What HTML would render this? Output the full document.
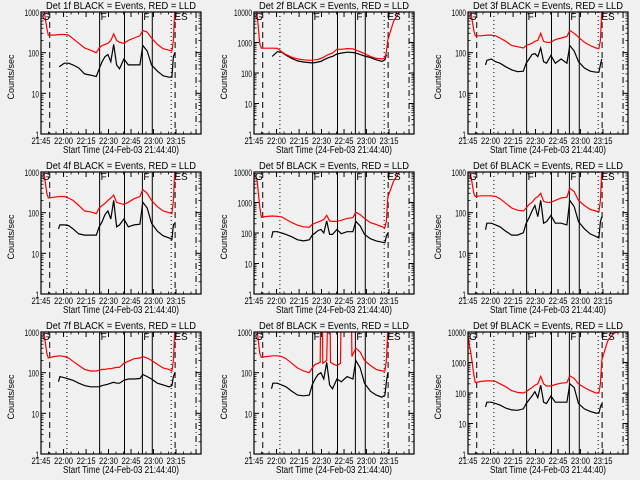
<!DOCTYPE html>
<html><head><meta charset="utf-8"><style>
html,body{margin:0;padding:0;background:#f0f0f0;}
svg{display:block;font-family:"Liberation Sans",sans-serif;}
</style></head><body>
<svg id="chart" width="640" height="480" viewBox="0 0 640 480" xmlns="http://www.w3.org/2000/svg">
<rect x="0" y="0" width="640" height="480" fill="#f0f0f0"/>
</svg>
<script>
// minutes since 21:44:40 (axis scale)
const tickLabels = ["21:45","22:00","22:15","22:30","22:45","23:00","23:15"];
const tickMinutes = [0,15.5,31,46.4,61.9,77.3,92.8];
const eventTimes = [6.0,17.8,40.3,57.4,69.7,76.5,89.5,92.2,106.6];
const eventStyles = ["dash","dot","solid","solid","solid","solid","dot","dash","dashdot"];
const flagLabels = ["G","F","F","ES"];
const flagTimes = [0,40.3,69.7,91];
const detNames = ["1f","2f","3f","4f","5f","6f","7f","8f","9f"];
const decades = [3,4,3,3,4,3,3,3,4];

const red1=[[0,1500],[2,1200],[4,400],[5,270],[9,270],[13,280],[16,280],[19,270],[22,220],[26,170],[30,130],[34,115],[38,100],[40,130],[42,150],[44,160],[46,170],[48,200],[50,290],[52,200],[54,180],[57,170],[60,200],[64,230],[68,260],[70,350],[73,320],[76,230],[80,160],[84,125],[88,115],[90,110],[91,200],[92,1200],[110,1500]];
const black1=[[12.5,45],[16,55],[19,55],[22,50],[26,42],[30,30],[34,28],[38,26],[40,40],[42,60],[44,80],[46,90],[48,60],[50,160],[52,50],[54,40],[57,70],[60,50],[64,50],[68,50],[70,150],[73,110],[76,50],[80,35],[84,27],[88,25],[90,25],[91,80],[92,100]];
const red2=[[0,12000],[2,10000],[4,900],[5,650],[9,650],[13,650],[16,640],[19,500],[22,400],[26,330],[30,290],[34,270],[38,260],[40,265],[42,270],[44,280],[46,300],[48,330],[50,380],[52,420],[54,450],[57,600],[60,600],[64,630],[68,620],[70,560],[73,500],[76,430],[80,350],[84,300],[88,290],[90,310],[91,500],[92,1200],[96,5000],[100,10000],[105,12000],[110,12000]];
const black2=[[12.5,350],[16,500],[19,480],[22,380],[26,300],[30,250],[34,230],[38,220],[40,215],[42,220],[44,230],[46,240],[48,270],[50,300],[52,330],[54,350],[57,420],[60,450],[64,480],[68,470],[70,450],[73,400],[76,360],[80,320],[84,270],[88,240],[90,270],[91,400]];
const red3=[[0,1500],[2,1000],[4,350],[5,260],[9,260],[13,270],[16,270],[19,260],[22,230],[26,190],[30,150],[34,140],[38,130],[40,150],[42,160],[44,170],[46,190],[48,200],[50,300],[52,190],[54,180],[57,180],[60,210],[64,230],[68,250],[70,350],[73,300],[76,240],[80,180],[84,150],[88,130],[90,125],[91,200],[92,1100],[110,1500]];
const black3=[[12,50],[13,65],[16,70],[19,60],[22,55],[26,45],[30,38],[34,34],[38,35],[40,55],[42,70],[44,90],[46,95],[48,80],[50,130],[52,60],[54,55],[57,85],[60,55],[64,70],[68,55],[70,150],[73,110],[76,60],[80,42],[84,35],[88,33],[90,33],[91,50],[92,70]];
const red4=[[0,1500],[2,1000],[4,300],[5,230],[9,240],[13,250],[16,250],[19,230],[22,200],[26,150],[30,110],[34,105],[38,95],[40,130],[42,150],[44,170],[46,200],[48,230],[50,270],[52,180],[54,170],[57,160],[60,180],[64,220],[68,250],[70,370],[73,300],[76,200],[80,140],[84,110],[88,100],[90,95],[91,200],[92,1100],[110,1500]];
const black4=[[12,40],[13,50],[16,50],[19,48],[22,40],[26,30],[30,28],[34,28],[38,28],[40,45],[42,60],[44,90],[46,110],[48,70],[50,200],[52,45],[54,50],[57,70],[60,45],[64,50],[68,52],[70,180],[73,130],[76,55],[80,35],[84,27],[88,24],[90,22],[91,50],[92,55]];
const red5=[[0,9000],[2,6000],[4,700],[5,330],[9,350],[13,360],[16,350],[19,340],[22,280],[26,220],[30,180],[34,160],[38,155],[40,190],[42,210],[44,230],[46,250],[48,280],[50,380],[52,250],[54,240],[57,240],[60,260],[64,300],[68,320],[70,480],[73,400],[76,300],[80,220],[84,190],[88,160],[90,150],[91,250],[92,1500],[96,5000],[100,10000],[105,12000],[110,12000]];
const black5=[[12,70],[13,110],[16,110],[19,100],[22,90],[26,75],[30,60],[34,55],[38,60],[40,85],[42,100],[44,120],[46,130],[48,100],[50,250],[52,90],[54,90],[57,130],[60,95],[64,110],[68,110],[70,240],[73,170],[76,90],[80,65],[84,55],[88,50],[90,48],[91,80],[92,100]];
const red6=[[0,1500],[2,800],[4,300],[5,250],[9,260],[13,260],[16,260],[19,250],[22,220],[26,170],[30,130],[34,115],[38,110],[40,130],[42,160],[44,180],[46,220],[48,250],[50,300],[52,190],[54,180],[57,180],[60,200],[64,230],[68,240],[70,400],[73,330],[76,200],[80,150],[84,120],[88,110],[90,105],[91,200],[92,1100],[110,1500]];
const black6=[[12,38],[13,55],[16,55],[19,50],[22,45],[26,35],[30,28],[34,28],[38,32],[40,55],[42,75],[44,110],[46,150],[48,80],[50,200],[52,55],[54,60],[57,85],[60,55],[64,55],[68,50],[70,200],[73,140],[76,60],[80,40],[84,30],[88,26],[90,24],[91,60],[92,80]];
const red7=[[0,1500],[2,1000],[4,300],[5,230],[9,250],[13,260],[16,250],[19,230],[22,190],[26,150],[30,120],[34,110],[38,110],[40,115],[42,120],[44,120],[46,125],[48,125],[50,130],[52,135],[54,135],[57,170],[60,190],[64,220],[68,230],[70,250],[73,230],[76,200],[80,160],[84,130],[88,120],[90,110],[91,200],[92,1100],[110,1500]];
const black7=[[12,60],[13,80],[16,75],[19,70],[22,65],[26,55],[30,48],[34,45],[38,45],[40,45],[42,48],[44,50],[46,52],[48,55],[50,58],[52,55],[54,55],[57,65],[60,70],[64,70],[68,72],[70,90],[73,80],[76,70],[80,55],[84,50],[88,45],[90,48],[91,80],[92,100]];
const red8=[[0,1500],[2,1200],[4,300],[5,240],[9,250],[13,260],[16,260],[19,250],[22,220],[26,170],[30,130],[34,110],[38,100],[40,130],[42,160],[44,170],[45.5,180],[45.8,2000],[47,2000],[47.3,170],[50,200],[50.6,2000],[52.3,2000],[52.6,180],[55,160],[57,150],[59.5,170],[59.8,2000],[67,2000],[67.3,250],[70,400],[73,320],[76,200],[80,150],[84,120],[88,110],[90,110],[91,200],[92,1100],[110,1500]];
const black8=[[12,40],[13,55],[16,55],[19,50],[22,45],[26,35],[30,28],[34,27],[38,28],[40,50],[42,70],[44,90],[46,100],[48,70],[50,180],[52,50],[54,40],[57,70],[60,60],[64,80],[68,70],[70,200],[73,130],[76,55],[80,35],[84,28],[88,25],[90,28],[91,60],[92,100]];
const red9=[[0,7000],[2,2000],[4,400],[5,220],[9,240],[13,250],[16,250],[19,240],[22,200],[26,160],[30,120],[34,105],[38,100],[40,110],[42,130],[44,150],[46,180],[48,200],[50,350],[52,200],[54,170],[57,170],[60,190],[64,210],[68,220],[70,370],[73,300],[76,200],[80,150],[84,120],[88,100],[90,100],[91,200],[92,1200],[96,5000],[100,9000],[105,11000],[110,12000]];
const black9=[[12,35],[13,50],[16,50],[19,45],[22,40],[26,32],[30,28],[34,27],[38,30],[40,45],[42,60],[44,80],[46,110],[48,70],[50,180],[52,50],[54,45],[57,80],[60,50],[64,50],[68,50],[70,200],[73,150],[76,45],[80,30],[84,25],[88,22],[90,22],[91,35],[92,45]];

const redSeries=[red1,red2,red3,red4,red5,red6,red7,red8,red9];
const blackSeries=[black1,black2,black3,black4,black5,black6,black7,black8,black9];

const NS="http://www.w3.org/2000/svg";
const svg=document.getElementById('chart');
function mk(tag,attrs,parent){const e=document.createElementNS(NS,tag);for(const k in attrs)e.setAttribute(k,attrs[k]);parent.appendChild(e);return e;}

const BL=41,BR=201,BT=12,BB=134,TMAX=110;
function xs(t){return BL+(t/TMAX)*(BR-BL);}

for(let p=0;p<9;p++){
  const col=p%3,row=Math.floor(p/3);
  const g=mk('g',{transform:`translate(${[0,213,427][col]},${row*160})`},svg);
  
  
  const nd=decades[p];
  const ys=v=>BB-(BB-BT)*Math.log10(v)/nd;
  const clip='clip'+p;
  const cp=mk('clipPath',{id:clip},g);mk('rect',{x:BL,y:BT,width:BR-BL,height:BB-BT},cp);
  const ti=mk('text',{x:(BL+BR)/2,y:9,'text-anchor':'middle','font-size':10,textLength:150,lengthAdjust:'spacingAndGlyphs'},g);
  ti.textContent='Det '+detNames[p]+' BLACK = Events, RED = LLD';
  
  
  for(let d=0;d<=nd;d++){
    const y=ys(Math.pow(10,d));
    mk('line',{x1:BL,x2:BL+5,y1:y,y2:y,stroke:'#000'},g);
    mk('line',{x1:BR-5,x2:BR,y1:y,y2:y,stroke:'#000'},g);
    const s=String(Math.pow(10,d));
    const tl=mk('text',{x:BL-2,y:y+4,'text-anchor':'end','font-size':9,textLength:s.length*3.6,lengthAdjust:'spacingAndGlyphs'},g);
    tl.textContent=s;
    
    
    if(d<nd){for(let m=2;m<=9;m++){const ym=ys(m*Math.pow(10,d));
      mk('line',{x1:BL,x2:BL+2.5,y1:ym,y2:ym,stroke:'#000','stroke-width':0.8},g);
      mk('line',{x1:BR-2.5,x2:BR,y1:ym,y2:ym,stroke:'#000','stroke-width':0.8},g);}}
  }
  tickMinutes.forEach((t,i)=>{
    const x=xs(t);
    mk('line',{x1:x,x2:x,y1:BB,y2:BB-5,stroke:'#000'},g);
    mk('line',{x1:x,x2:x,y1:BT,y2:BT+5,stroke:'#000'},g);
    const tl=mk('text',{x:x,y:BB+10,'text-anchor':'middle','font-size':9,textLength:19,lengthAdjust:'spacingAndGlyphs'},g);
    tl.textContent=tickLabels[i];
    
    
    for(let m=1;m<3;m++){const xm=xs(t+5.16*m);if(xm<BR){
      mk('line',{x1:xm,x2:xm,y1:BB,y2:BB-2.5,stroke:'#000','stroke-width':0.8},g);
      mk('line',{x1:xm,x2:xm,y1:BT,y2:BT+2.5,stroke:'#000','stroke-width':0.8},g);}}
  });
  const xl=mk('text',{x:121,y:153,'text-anchor':'middle','font-size':10,textLength:116,lengthAdjust:'spacingAndGlyphs'},g);
  xl.textContent='Start Time (24-Feb-03 21:44:40)';
  
  
  const yl=mk('text',{x:0,y:0,'text-anchor':'middle','font-size':9,transform:'translate(14,77) rotate(-90)'},g);
  yl.textContent='Counts/sec';
  
  
  const dashes={solid:'',dash:'6,4',dot:'1,3',dashdot:'6,3,1,3'};
  eventTimes.forEach((t,i)=>{
    const x=xs(t);
    const ln=mk('line',{x1:x,x2:x,y1:BT,y2:BB,stroke:'#000','stroke-width':1},g);
    if(dashes[eventStyles[i]])ln.setAttribute('stroke-dasharray',dashes[eventStyles[i]]);
    
    
  });
  const path=(arr)=>arr.map((d,i)=>(i?'L':'M')+xs(d[0]).toFixed(1)+','+ys(d[1]).toFixed(1)).join(' ');
  const bp=mk('path',{d:path(blackSeries[p]),fill:'none',stroke:'#000','stroke-width':1.2,'clip-path':`url(#${clip})`},g);
  
  
  const rp=mk('path',{d:path(redSeries[p]),fill:'none',stroke:'#ff0000','stroke-width':1.2,'clip-path':`url(#${clip})`},g);
  
  
  flagLabels.forEach((f,i)=>{
    const x=xs(flagTimes[i])+1;
    const ft=mk('text',{x:x,y:BT+8,'font-size':10},g);
    ft.textContent=f;
    
    
  });
  mk('rect',{x:BL,y:BT,width:BR-BL,height:BB-BT,fill:'none',stroke:'#000','stroke-width':1.2},g);
}
</script>
</body></html>
